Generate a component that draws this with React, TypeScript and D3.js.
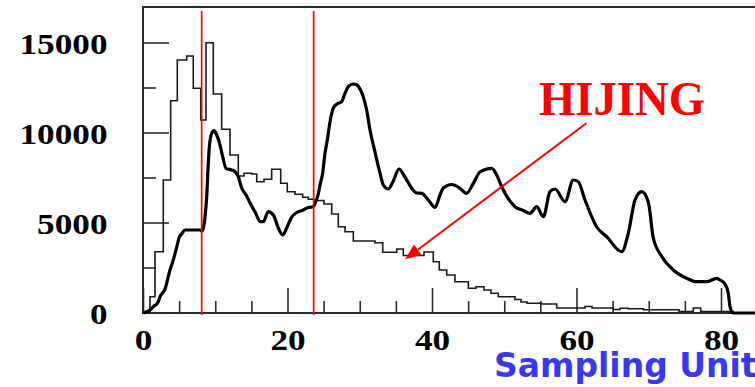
import React from "react";
import * as d3 from "d3";

const width = 755;
const height = 387;

// HIJING reference histogram: bin edges (sampling units) and entries per bin
const hijingEdges = [
  0.9, 1.59, 2.74, 3.76, 4.68, 5.98, 6.89, 7.92, 8.65, 9.66, 10.82, 11.97, 13.12,
  13.91, 14.98, 15.67, 16.68, 17.74, 18.99, 19.9, 20.97, 22.03, 22.81, 23.6, 24.98,
  26.05, 26.96, 27.89, 29.04, 32.04, 33.11, 35.05, 35.96, 38.82, 40.11, 40.94, 41.97,
  43.11, 44.96, 46.02, 47.13, 48.1, 49.11, 51.42, 52.25, 53.08, 55.11, 57.19, 61.11,
  62.08, 65.02, 65.95, 67.1, 69.18, 74.12, 76.1, 77.12, 81.6,
];
const hijingCounts = [
  906, 3406, 7389, 11794, 14056, 14278, 12483, 10722, 15017, 12167, 10206, 8778,
  7611, 7761, 7722, 7294, 7428, 7983, 7206, 6739, 6594, 6428, 6317, 6250, 6056,
  5500, 4794, 4517, 4000, 3906, 3372, 3556, 3194, 3389, 2850, 2389, 2111, 1739,
  1372, 1461, 1278, 1094, 906, 750, 611, 539, 500, 278, 361, 278, 194, 261, 239,
  178, 83, 278, 83,
];

// Measured distribution sampled along the sampling-unit axis
const measuredUnits = [
  0, 0.44, 0.9, 1.36, 2.05, 2.28, 2.98, 3.67, 4.12, 4.6, 4.96, 5.29, 5.74, 7.82,
  8.06, 8.24, 8.51, 8.75, 8.97, 9.11, 9.44, 9.76, 10.13, 10.59, 10.96, 11.42,
  12.21, 12.66, 13.12, 13.59, 14.28, 14.74, 15.43, 16.22, 16.58, 17.27, 17.97,
  18.66, 19.27, 19.82, 20.51, 21.11, 22.12, 22.81, 23.5, 23.74, 24.19, 24.43,
  24.8, 25.12, 25.44, 25.81, 26.27, 26.78, 27.43, 27.89, 28.35, 29.04, 29.55,
  29.97, 30.38, 30.89, 31.35, 32.04, 32.73, 33.19, 33.88, 34.57, 35.36, 36.19,
  37.12, 37.81, 38.51, 39.42, 40.35, 41.04, 41.49, 42.66, 43.81, 44.73, 45.65,
  46.57, 48.19, 48.89, 49.58, 51.42, 52.57, 53.49, 54.42, 55.34, 56.26, 56.96,
  58.34, 59.49, 60.18, 61.11, 62.73, 64.11, 66.19, 67.1, 68.03, 68.96, 69.87,
  70.56, 71.76, 73.33, 75.18, 76.57, 77.95, 79.34, 79.79, 80.48, 80.94, 81.18,
  81.59, 86,
];
const measuredCounts = [
  0, 72, 167, 350, 628, 889, 1333, 2389, 2944, 3667, 4222, 4389, 4611, 4611,
  4556, 4667, 5306, 6461, 8317, 9222, 9983, 10128, 9889, 9333, 8683, 8039,
  7944, 7850, 7572, 6944, 6500, 6111, 5628, 5072, 5072, 5628, 5444,
  4722, 4333, 4722, 5333, 5556, 5722, 5861, 5906, 6094, 6611, 7111,
  7778, 8872, 9611, 10611, 11389, 11611, 11739, 12206, 12572, 12722, 12667,
  12444, 12056, 11278, 10167, 8944, 7778, 7111, 6889, 7333, 8000, 7556,
  6928, 6667, 6650, 6278, 5861, 6556, 6944, 7139, 6928, 6650, 7206,
  7833, 8039, 7667, 7017, 5906, 5694, 5539, 5906, 5350, 6739, 6889,
  6183, 7389, 7294, 6278, 4778, 4239, 3406, 4428, 6278, 6739, 6167,
  4167, 3128, 2389, 1928, 1739, 1739, 1928, 1833, 1611, 1094, 350,
  0, 0,
];

const yMajorTicks = [0, 5000, 10000, 15000];
const yMinorTicks = [2500, 7500, 12500];
const xMajorTicks = [0, 20, 40, 60, 80];
const xMinorTicks = [5, 10, 15, 25, 30, 35, 45, 50, 55, 65, 70, 75];

// Selection window boundaries (sampling units)
const windowEdges = [8.05, 23.55];

// Annotation arrow pointing at the HIJING histogram, [units, entries]
const arrowTail = [61.3, 10540];
const arrowTip = [36.2, 2980];

const axisColor = "#2b2b2b";
const numberFont = "'Liberation Serif', 'Times New Roman', serif";

export default function App() {
  const x = d3.scaleLinear().domain([0, 80]).range([143.5, 721.5]);
  const y = d3.scaleLinear().domain([0, 17000]).range([313, 7]);

  const frameLeft = 143;
  const frameTop = y(17000);
  const frameBottom = y(0);

  // Step outline of the HIJING histogram
  const stepPoints: [number, number][] = [[0, 0]];
  hijingCounts.forEach((c, i) => stepPoints.push([hijingEdges[i], c]));
  stepPoints.push([hijingEdges[hijingEdges.length - 1], 0]);
  stepPoints.push([86, 0]);
  const stepLine = d3
    .line<[number, number]>()
    .x((d) => x(d[0]))
    .y((d) => y(d[1]))
    .curve(d3.curveStepAfter);

  const measuredLine = d3
    .line<number>()
    .x((_, i) => x(measuredUnits[i]))
    .y((d) => y(d))
    .curve(d3.curveMonotoneX);

  // Arrow geometry
  const tx = x(arrowTail[0]);
  const ty = y(arrowTail[1]);
  const hx = x(arrowTip[0]);
  const hy = y(arrowTip[1]);
  const len = Math.hypot(hx - tx, hy - ty);
  const ux = (hx - tx) / len;
  const uy = (hy - ty) / len;
  const headLen = 16;
  const headHalf = 6.5;
  const bx = hx - ux * headLen;
  const by = hy - uy * headLen;
  const head = [
    [hx, hy],
    [bx - uy * headHalf, by + ux * headHalf],
    [bx + uy * headHalf, by - ux * headHalf],
  ]
    .map((p) => p.join(","))
    .join(" ");

  const digitWidth = 17.6;

  return (
    <svg
      width={width}
      height={height}
      style={{ position: "absolute", left: 0, top: 0, background: "#fff" }}
    >
      <rect width={width} height={height} fill="#fff" />

      {/* frame */}
      <line x1={frameLeft} x2={width} y1={frameTop} y2={frameTop} stroke={axisColor} strokeWidth={2} />
      <line x1={frameLeft} x2={frameLeft} y1={frameTop - 1} y2={frameBottom + 1} stroke={axisColor} strokeWidth={2} />
      <line x1={frameLeft - 1} x2={width} y1={frameBottom} y2={frameBottom} stroke={axisColor} strokeWidth={2} />

      {/* y ticks */}
      {yMajorTicks.map((t) => (
        <line key={"ym" + t} x1={frameLeft} x2={frameLeft + 26} y1={y(t)} y2={y(t)} stroke={axisColor} strokeWidth={1.6} />
      ))}
      {yMinorTicks.map((t) => (
        <line key={"yn" + t} x1={frameLeft} x2={frameLeft + 13} y1={y(t)} y2={y(t)} stroke={axisColor} strokeWidth={1.6} />
      ))}
      {yMajorTicks.map((t) => {
        const s = String(t);
        const w = s.length * digitWidth;
        return (
          <text
            key={"yl" + t}
            x={107.5 - w}
            y={y(t) + 10.5}
            fontFamily={numberFont}
            fontWeight="bold"
            fontSize={30}
            textLength={w}
            lengthAdjust="spacingAndGlyphs"
            fill="#000"
          >
            {s}
          </text>
        );
      })}

      {/* x ticks */}
      {xMajorTicks.map((t) => (
        <line key={"xm" + t} x1={x(t)} x2={x(t)} y1={frameBottom} y2={frameBottom - 25} stroke={axisColor} strokeWidth={1.6} />
      ))}
      {xMinorTicks.map((t) => (
        <line key={"xn" + t} x1={x(t)} x2={x(t)} y1={frameBottom} y2={frameBottom - 12} stroke={axisColor} strokeWidth={1.6} />
      ))}
      {xMajorTicks.map((t) => {
        const s = String(t);
        const w = s.length * digitWidth;
        return (
          <text
            key={"xl" + t}
            x={x(t) - w / 2}
            y={350}
            fontFamily={numberFont}
            fontWeight="bold"
            fontSize={30}
            textLength={w}
            lengthAdjust="spacingAndGlyphs"
            fill="#000"
          >
            {s}
          </text>
        );
      })}

      {/* HIJING histogram */}
      <path d={stepLine(stepPoints) ?? ""} fill="none" stroke="#1a1a1a" strokeWidth={1.6} />

      {/* measured distribution */}
      <path
        d={measuredLine(measuredCounts) ?? ""}
        fill="none"
        stroke="#000"
        strokeWidth={3.2}
        strokeLinejoin="round"
      />

      {/* window boundaries */}
      {windowEdges.map((e) => (
        <line key={"w" + e} x1={x(e)} x2={x(e)} y1={y(16780)} y2={frameBottom + 2} stroke="#ff0000" strokeWidth={1.7} />
      ))}

      {/* annotation */}
      <line x1={tx} y1={ty} x2={bx} y2={by} stroke="#ff0000" strokeWidth={2} />
      <polygon points={head} fill="#ff0000" />
      <text
        x={539}
        y={115}
        fontFamily={numberFont}
        fontWeight="bold"
        fontSize={48}
        textLength={166}
        lengthAdjust="spacingAndGlyphs"
        fill="#ff0000"
      >
        HIJING
      </text>

      <text
        x={494}
        y={377}
        fontFamily="'DejaVu Sans', Verdana, sans-serif"
        fontWeight="bold"
        fontSize={33}
        fill="#3838f2"
      >
        Sampling Unit
      </text>
    </svg>
  );
}
